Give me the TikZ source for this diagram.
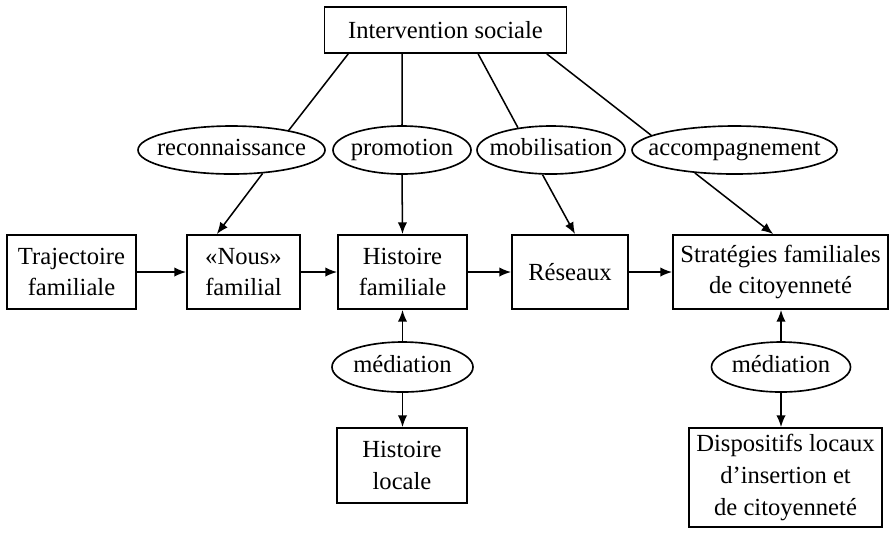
\documentclass[tikz,border=0pt]{standalone}
\usepackage{fontspec}
\setmainfont{Liberation Serif}
\usetikzlibrary{positioning, shapes.geometric, arrows.meta}

\newcommand{\inoval}[1]{\makebox[0pt]{#1}}

\begin{document}
\begin{tikzpicture}[x=0.015cm, y=-0.015cm,
        box/.style={rectangle, draw=black, line width=0.8pt, align=center, inner sep=2pt, font=\fontsize{10.5}{13.5}\selectfont},
        bubble/.style={ellipse, draw=black, line width=0.7pt, inner sep=0pt, minimum height=0.72cm, text height=7.4pt, text depth=2.3pt, font=\fontsize{10.5}{13.5}\selectfont},
        link/.style={line width=0.65pt},
        arr/.style={link, -{Latex[length=5pt, width=4pt]}}]
            \useasboundingbox (0, 0) rectangle (891, 532);

            \node[box, minimum width=3.63cm, minimum height=0.69cm] (inter) at (445.5, 30) {Intervention sociale};

            \node[bubble, minimum width=2.805cm] (recon) at (231.5, 150) {\inoval{reconnaissance}};
            \node[bubble, minimum width=2.07cm] (promo) at (402, 150) {\inoval{promotion}};
            \node[bubble, minimum width=2.22cm] (mobil) at (551, 150) {\inoval{mobilisation}};
            \node[bubble, minimum width=3.075cm] (accomp) at (734.5, 150) {\inoval{accompagnement}};

            \node[box, minimum width=1.935cm, minimum height=1.11cm] (traj) at (71.5, 272) {Trajectoire\\familiale};
            \node[box, minimum width=1.695cm, minimum height=1.11cm] (nous) at (243.5, 272) {«Nous»\\familial};
            \node[box, minimum width=1.935cm, minimum height=1.11cm] (hist) at (402.5, 272) {Histoire\\familiale};
            \node[box, minimum width=1.74cm, minimum height=1.11cm] (reseau) at (570, 272) {Réseaux};
            \node[box, minimum width=3.225cm, minimum height=1.11cm] (strat) at (780.5, 272) {Stratégies familiales\\de citoyenneté};

            \node[bubble, minimum width=2.115cm, minimum height=0.75cm] (medA) at (402.5, 367) {\inoval{médiation}};
            \node[bubble, minimum width=2.085cm, minimum height=0.75cm] (medB) at (781, 367) {\inoval{médiation}};

            \node[box, minimum width=1.95cm, minimum height=1.125cm] (hloc) at (402, 465.5) {Histoire\\locale};
            \node[box, minimum width=2.895cm, minimum height=1.485cm] (disp) at (785.5, 477.5) {Dispositifs locaux\\d'insertion et\\de citoyenneté};

            % intervention -> ovals
            \draw[link] ([xshift=-1.46cm]inter.south) -- (recon.19);
            \draw[link] ([xshift=-0.65cm]inter.south) -- (promo.north);
            \draw[link] ([xshift=0.49cm]inter.south) -- (mobil.146);
            \draw[link] ([xshift=1.52cm]inter.south) -- (accomp.170);

            % ovals -> boxes
            \draw[arr] (recon.-37) -- ([xshift=-0.4cm]nous.north);
            \draw[arr] (promo.south) -- (hist.north);
            \draw[arr] (mobil.-109) -- ([xshift=0.075cm]reseau.north);
            \draw[arr] (accomp.-150) -- ([xshift=-0.11cm]strat.north);

            % main row
            \draw[arr] (traj.east) -- (nous.west);
            \draw[arr] (nous.east) -- (hist.west);
            \draw[arr] (hist.east) -- (reseau.west);
            \draw[arr] (reseau.east) -- (strat.west);

            % mediation
            \draw[arr] (medA.north) -- (hist.south);
            \draw[arr] (medA.south) -- (hloc.north -| medA.south);
            \draw[arr] (medB.north) -- (strat.south -| medB.north);
            \draw[arr] (medB.south) -- (disp.north -| medB.south);
        \end{tikzpicture}
\end{document}
